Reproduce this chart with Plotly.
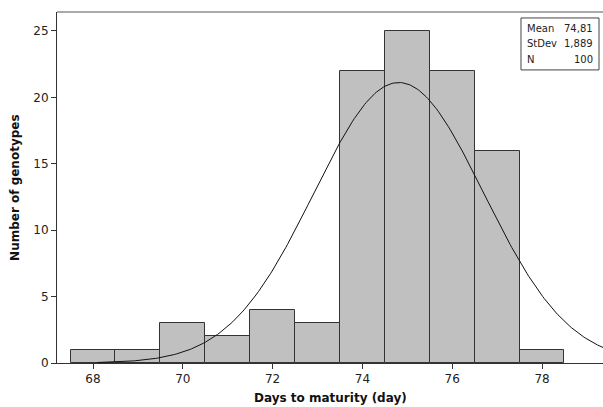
import numpy as np
import plotly.graph_objects as go

# Histogram data (bin centres, counts)
bin_centers = [68, 69, 70, 71, 72, 73, 74, 75, 76, 77, 78]
counts = [1, 1, 3, 2, 4, 3, 22, 25, 22, 16, 1]
x_ticks = [68, 70, 72, 74, 76, 78]
y_ticks = [0, 5, 10, 15, 20, 25]

MEAN = 74.81
STDEV = 1.889
N = 100
stat_labels = ["Mean", "StDev", "N"]
stat_values = ["74,81", "1,889", "100"]

# fitted normal curve (scaled to counts, bin width 1)
xc = np.linspace(68.1, 79.5, 300)
yc = N * 1.0 / (STDEV * np.sqrt(2 * np.pi)) * np.exp(-0.5 * ((xc - MEAN) / STDEV) ** 2)

fig = go.Figure()
fig.add_trace(go.Bar(
    x=bin_centers, y=counts, width=1,
    marker=dict(color="#c0c0c0", line=dict(color="#333333", width=1)),
    showlegend=False, hoverinfo="x+y",
))
fig.add_trace(go.Scatter(
    x=xc, y=yc, mode="lines", line=dict(color="#111111", width=1),
    showlegend=False, hoverinfo="skip",
))

font_fam = "DejaVu Sans"
fig.update_layout(
    width=603, height=407,
    margin=dict(l=57, r=0, t=12, b=44, autoexpand=False),
    paper_bgcolor="white", plot_bgcolor="white",
    bargap=0,
    font=dict(family=font_fam, color="#222222"),
    xaxis=dict(
        range=[67.198, 79.358], tickvals=x_ticks, ticks="outside", ticklen=5,
        tickcolor="#333333", showgrid=False, zeroline=False,
        showline=True, linecolor="#333333", linewidth=1,
        tickfont=dict(size=12, family=font_fam, color="#222222"),
    ),
    yaxis=dict(
        range=[0, 26.43], tickvals=y_ticks, ticks="outside", ticklen=5,
        tickcolor="#333333", showgrid=False, zeroline=False,
        showline=True, linecolor="#333333", linewidth=1,
        tickfont=dict(size=12, family=font_fam, color="#222222"),
    ),
)

# axis titles
fig.add_annotation(xref="paper", yref="paper", x=0.5, y=-0.10, text="<b>Days to maturity (day)</b>",
                   showarrow=False, xanchor="center", yanchor="middle",
                   font=dict(size=12, family=font_fam, color="#111111"))
fig.add_annotation(xref="paper", yref="paper", x=-0.078, y=0.5, text="<b>Number of genotypes</b>",
                   showarrow=False, xanchor="center", yanchor="middle", textangle=-90,
                   font=dict(size=12, family=font_fam, color="#111111"))

# top border line of the plot frame
fig.add_shape(type="line", xref="paper", yref="paper", x0=0, x1=1, y0=1, y1=1,
              line=dict(color="#555555", width=1))

# statistics box
fig.add_shape(type="rect", xref="paper", yref="paper",
              x0=0.8498, x1=0.9927, y0=0.835, y1=0.983,
              line=dict(color="#444444", width=1), fillcolor="white")
row_y = [0.9516, 0.909, 0.866]
for lab, val, yy in zip(stat_labels, stat_values, row_y):
    fig.add_annotation(xref="paper", yref="paper", x=0.857, y=yy, text=lab,
                       showarrow=False, xanchor="left", yanchor="middle",
                       font=dict(size=10, family=font_fam, color="#222222"))
    fig.add_annotation(xref="paper", yref="paper", x=0.985, y=yy, text=val,
                       showarrow=False, xanchor="right", yanchor="middle",
                       font=dict(size=10, family=font_fam, color="#222222"))

fig.write_html("out.html", config={"displayModeBar": False},
               post_script="document.body.style.margin='0';")
